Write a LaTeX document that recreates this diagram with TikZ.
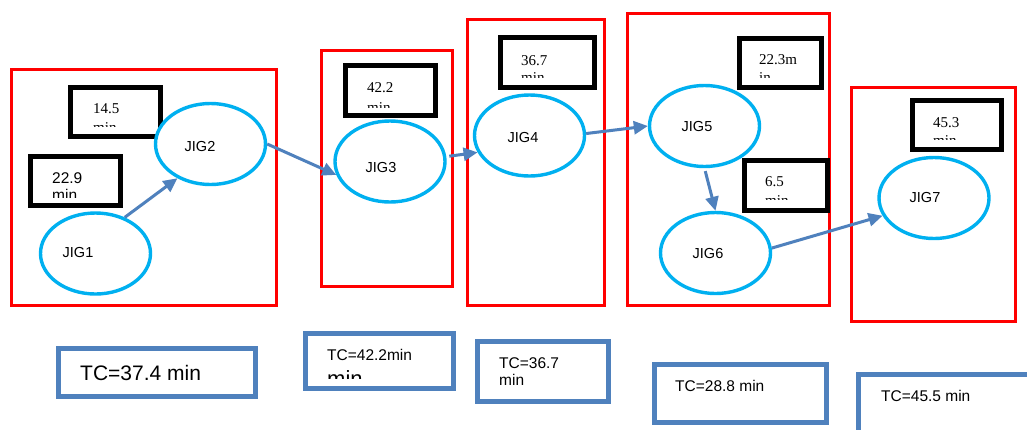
\documentclass[tikz,border=0pt]{standalone}
\usepackage{fontspec}
\setmainfont{Liberation Serif}
\setsansfont{Liberation Sans}
\usetikzlibrary{shapes.geometric,arrows.meta}
\definecolor{jcyan}{HTML}{00B0F0}
\definecolor{jblue}{HTML}{4F81BD}
\begin{document}
\begin{tikzpicture}[x=1pt,y=-1pt,
  station/.style={draw=red, line width=3pt},
  timebox/.style={draw=black, line width=5pt},
  tcbox/.style={draw=jblue, line width=5pt},
  jig/.style={ellipse, draw=jcyan, fill=white, line width=3.4pt, minimum width=110pt, minimum height=81pt, inner sep=0pt},
  jiglabel/.style={inner sep=0pt, font=\sffamily\fontsize{14.5}{17}\selectfont},
  flow/.style={draw=jblue, line width=3pt, -{Triangle[length=14pt,width=13pt]}},
  serifnum/.style={anchor=base west, inner sep=0pt, font=\rmfamily\fontsize{15}{17}\selectfont},
  sansnum/.style={anchor=base west, inner sep=0pt, font=\sffamily\fontsize{15.5}{17}\selectfont},
  tctext/.style={anchor=base west, inner sep=0pt, font=\sffamily\fontsize{15.5}{17}\selectfont},
]
\clip (0,0) rectangle (1027,429);
\fill[white] (0,0) rectangle (1027,429);

% stations (red)
\draw[station] (11.5,69.5) rectangle (276.5,305);
\draw[station] (321.5,50.5) rectangle (452.5,286);
\draw[station] (467.5,19.5) rectangle (604.5,305.5);
\draw[station] (627.5,13.5) rectangle (829.5,305.5);
\draw[station] (851.5,87.5) rectangle (1015.5,321.5);

% time boxes (black) with clipped text
\draw[timebox] (70.5,87.5) rectangle (160.5,136.5);
\begin{scope}\clip (73,90) rectangle (158,126);
  \node[serifnum] (t2a) at (93,113) {14.5};
  \node[serifnum] (t2b) at (93,132) {min};
\end{scope}

\draw[timebox] (30.5,156.5) rectangle (120.5,205.5);
\begin{scope}\clip (33,159) rectangle (118,197);
  \node[sansnum] (t1a) at (52,183) {22.9};
  \node[sansnum] (t1b) at (52,200) {min};
\end{scope}

\draw[timebox] (345.5,65.5) rectangle (435.5,115.5);
\begin{scope}\clip (348,68) rectangle (433,107);
  \node[serifnum] (t3a) at (367,92) {42.2};
  \node[serifnum] (t3b) at (367,112) {min};
\end{scope}

\draw[timebox] (500.5,37.5) rectangle (594.5,87.5);
\begin{scope}\clip (503,40) rectangle (592,77);
  \node[serifnum] (t4a) at (521,65) {36.7};
  \node[serifnum] (t4b) at (521,82) {min};
\end{scope}

\draw[timebox] (739.5,38.5) rectangle (821.5,87.5);
\begin{scope}\clip (742,41) rectangle (819,77);
  \node[serifnum] (t5a) at (759,64) {22.3m};
  \node[serifnum] (t5b) at (759,82) {in};
\end{scope}

\draw[timebox] (744.5,160.5) rectangle (827.5,210.5);
\begin{scope}\clip (747,163) rectangle (825,199);
  \node[serifnum] (t6a) at (765,186) {6.5};
  \node[serifnum] (t6b) at (765,205) {min};
\end{scope}

\draw[timebox] (912.5,100.5) rectangle (1001.5,149.5);
\begin{scope}\clip (915,103) rectangle (999,139);
  \node[serifnum] (t7a) at (933,127) {45.3};
  \node[serifnum] (t7b) at (933,145) {min};
\end{scope}

% jigs
\node[jig] (J1) at (95.5,253.5) {};
\node[jig] (J2) at (210.5,144) {};
\node[jig] (J3) at (390,161.5) {};
\node[jig] (J4) at (529.5,135.5) {};
\node[jig] (J5) at (704.5,126) {};
\node[jig] (J6) at (715.5,253) {};
\node[jig] (J7) at (934,198) {};
\node[jiglabel] (L1) at (78,253) {JIG1};
\node[jiglabel] (L2) at (200,147) {JIG2};
\node[jiglabel] (L3) at (381,168) {JIG3};
\node[jiglabel] (L4) at (523,138) {JIG4};
\node[jiglabel] (L5) at (697,127) {JIG5};
\node[jiglabel] (L6) at (708,254) {JIG6};
\node[jiglabel] (L7) at (925,198) {JIG7};

% flow arrows
\draw[flow] (J1.51) -- (J2.226);
\draw[flow] (J2.east) -- (J3.194);
\draw[flow, shorten <=3pt] (J3.5) -- (J4.198);
\draw[flow] (J4.2) -- (J5.west);
\draw[flow, shorten <=3pt] (J5.south) -- (J6.north);
\draw[flow] (J6.5) -- (J7.199);

% cycle time boxes (blue)
\draw[tcbox] (58.5,348.5) rectangle (255.5,396.5);
\node[anchor=base west, inner sep=0pt, font=\sffamily\fontsize{21}{24}\selectfont] (c1) at (80,380) {TC=37.4 min};

\draw[tcbox] (305.5,333.5) rectangle (453.5,388.5);
\begin{scope}\clip (308,336) rectangle (451,378);
  \node[tctext] (c2a) at (327,360) {TC=42.2min};
  \node[anchor=base west, inner sep=0pt, font=\sffamily\fontsize{22}{24}\selectfont] (c2b) at (327,386) {min};
\end{scope}

\draw[tcbox] (477.5,341.5) rectangle (608.5,401.5);
\node[tctext] (c3a) at (499,368) {TC=36.7};
\node[tctext] (c3b) at (499,385) {min};

\draw[tcbox] (654.5,364.5) rectangle (826.5,422.5);
\node[tctext] (c4) at (675,391) {TC=28.8 min};

\draw[tcbox] (858.5,374.5) rectangle (1045,445);
\node[tctext] (c5) at (881,401) {TC=45.5 min};
\end{tikzpicture}
\end{document}
